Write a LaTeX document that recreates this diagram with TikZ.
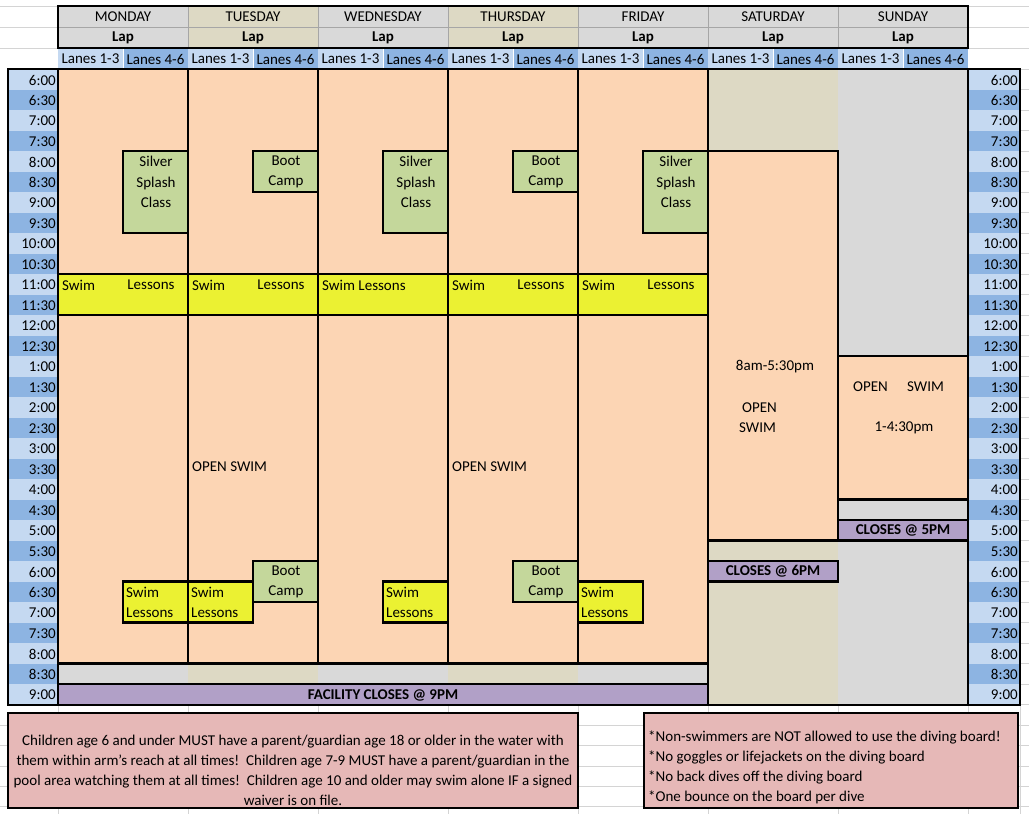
\documentclass[tikz,border=0pt]{standalone}
\usepackage{fontspec}
\setmainfont{Carlito}
\definecolor{peach}{HTML}{FCD5B4}
\definecolor{grn}{HTML}{C4D79B}
\definecolor{yel}{HTML}{EBF132}
\definecolor{purp}{HTML}{B1A0C7}
\definecolor{gry}{HTML}{D9D9D9}
\definecolor{tan}{HTML}{DDD9C4}
\definecolor{laneL}{HTML}{C5D9F1}
\definecolor{laneD}{HTML}{8DB4E2}
\definecolor{pink}{HTML}{E6B8B7}
\definecolor{grid}{HTML}{D4D4D4}
\begin{document}
\begin{tikzpicture}[x=1pt,y=-1pt,
  every node/.style={font=\fontsize{15}{16}\selectfont, inner sep=0pt},
  thk/.style={line width=2.2pt},
  box/.style={thk, draw=black}]
\useasboundingbox (0,0) rectangle (1029,814);
\fill[white] (0,0) rectangle (1029,814);
% faint spreadsheet grid in white area
\foreach \x in {58,188,318,448,578,708,838,968,1020}{\draw[grid,line width=0.6pt] (\x,705) -- (\x,814);}
\foreach \y in {725,745,766,786,806}{\draw[grid,line width=0.6pt] (0,\y) -- (1029,\y);}
\foreach \i in {0,...,31}{\draw[grid,line width=0.6pt] (1020,{69+20.5*\i}) -- (1029,{69+20.5*\i});}
\foreach \y in {6,27,48}{\draw[grid,line width=0.6pt] (0,\y) -- (58,\y); \draw[grid,line width=0.6pt] (968,\y) -- (1029,\y);}
% header
\foreach \d/\n/\c in {0/MONDAY/gry,1/TUESDAY/tan,2/WEDNESDAY/gry,3/THURSDAY/tan,4/FRIDAY/gry,5/SATURDAY/gry,6/SUNDAY/gry}{
  \pgfmathsetmacro\xa{58+130*\d}
  \fill[\c] (\xa,6) rectangle ({\xa+130},48);
  \draw[gray!70,line width=0.6pt] (\xa,27) -- ({\xa+130},27);
  \draw[gray!70,line width=0.8pt] (\xa,6) -- (\xa,48);
  \node (h\d) at ({\xa+65},17) {\n};
  \node[font=\fontsize{15}{16}\selectfont\bfseries] (lap\d) at ({\xa+65},38) {Lap};
  \fill[laneL] (\xa,48) rectangle ({\xa+65},69);
  \fill[laneD] ({\xa+65},48) rectangle ({\xa+130},69);
  \draw[white,line width=0.8pt] ({\xa+65},48) -- ({\xa+65},69);
  \draw[white,line width=0.8pt] ({\xa+130},48) -- ({\xa+130},69);
  \node (la\d) at ({\xa+32.5},59) {Lanes 1-3};
  \node (lb\d) at ({\xa+97.5},59) {Lanes 4-6};
}
\draw[thk] (58,6) rectangle (968,48);
% column backgrounds
\fill[tan] (708,69) rectangle (838,705);
\fill[gry] (838,69) rectangle (968,705);
\foreach \d/\c in {0/gry,1/tan,2/gry,3/tan,4/gry}{
  \pgfmathsetmacro\xa{58+130*\d}
  \fill[\c] (\xa,663.5) rectangle ({\xa+130},684);
  \fill[peach] (\xa,69) rectangle ({\xa+130},274);
  \fill[peach] (\xa,315) rectangle ({\xa+130},663.5);
  \draw[box] (\xa,69) rectangle ({\xa+130},274);
  \draw[box] (\xa,315) rectangle ({\xa+130},663.5);
}
% swim lessons row
\fill[yel] (58,274) rectangle (708,315);
\draw[box] (58,274) rectangle (708,315);
\foreach \x in {188,318,448,578}{\draw[thk] (\x,274) -- (\x,315);}
\foreach \d/\s in {0/a,1/b,3/d,4/e}{
  \pgfmathsetmacro\xa{58+130*\d}
  \node[anchor=west] (sw\s) at ({\xa+4},285) {Swim};
  \node (sl\s) at ({\xa+93},285) {Lessons};
}
\node[anchor=west] (swc) at (322,285) {Swim Lessons};
% morning classes
\foreach \d in {0,2,4}{
  \pgfmathsetmacro\xa{58+130*\d+65}
  \fill[grn] (\xa,151) rectangle ({\xa+65},233);
  \draw[box] (\xa,151) rectangle ({\xa+65},233);
  \node[align=center,font=\fontsize{15}{20.5}\selectfont] (ss\d) at ({\xa+33},182) {Silver\\Splash\\Class};
}
\foreach \d in {1,3}{
  \pgfmathsetmacro\xa{58+130*\d+65}
  \fill[grn] (\xa,151) rectangle ({\xa+65},192);
  \draw[box] (\xa,151) rectangle ({\xa+65},192);
  \node[align=center,font=\fontsize{15}{20.5}\selectfont] (bc\d) at ({\xa+33},172) {Boot\\Camp};
}
% open swim
\node[anchor=west] (os1) at (192,466.5) {OPEN SWIM};
\node[anchor=west] (os3) at (452,466.5) {OPEN SWIM};
% evening boxes: swim lessons
\foreach \x/\k in {123/a,188/b,383/c,578/e}{
  \fill[yel] (\x,581.5) rectangle ({\x+65},622.5);
  \draw[box] (\x,581.5) rectangle ({\x+65},622.5);
  \node[anchor=west,align=left,font=\fontsize{15}{20.5}\selectfont] (el\k) at ({\x+3},602.5) {Swim\\Lessons};
}
\foreach \x/\k in {253/b,513/d}{
  \fill[grn] (\x,561) rectangle ({\x+65},602);
  \draw[box] (\x,561) rectangle ({\x+65},602);
  \node[align=center,font=\fontsize{15}{20.5}\selectfont] (eb\k) at ({\x+33},582) {Boot\\Camp};
}
% facility closes
\fill[purp] (58,684) rectangle (708,705);
\draw[box] (58,684) rectangle (708,705);
\node[font=\fontsize{15}{16}\selectfont\bfseries] (fc) at (383,695) {FACILITY CLOSES @ 9PM};
% saturday
\fill[peach] (708,151) rectangle (838,540.5);
\draw[box] (708,151) rectangle (838,540.5);
\node (sat1) at (775,366.5) {8am-5:30pm};
\node[anchor=west] (sat2) at (742,407.5) {OPEN};
\node[anchor=west] (sat3) at (739,427.5) {SWIM};
\fill[purp] (708,561) rectangle (838,581.5);
\draw[box] (708,561) rectangle (838,581.5);
\node[font=\fontsize{15}{16}\selectfont\bfseries] (c6) at (773,571.5) {CLOSES @ 6PM};
% sunday
\fill[peach] (838,356) rectangle (968,499.5);
\draw[box] (838,356) rectangle (968,499.5);
\draw[box] (838,499.5) rectangle (968,520);
\node[anchor=west] (sun1) at (853,387) {OPEN};
\node[anchor=west] (sun2) at (907,387) {SWIM};
\node (sun3) at (904,427.5) {1-4:30pm};
\fill[purp] (838,520) rectangle (968,540.5);
\draw[box] (838,520) rectangle (968,540.5);
\node[font=\fontsize{15}{16}\selectfont\bfseries] (c5) at (903,530.5) {CLOSES @ 5PM};
\draw[box] (708,540.5) -- (968,540.5);
% time columns
\foreach \t [count=\j from 0] in {6:00,6:30,7:00,7:30,8:00,8:30,9:00,9:30,10:00,10:30,11:00,11:30,12:00,12:30,1:00,1:30,2:00,2:30,3:00,3:30,4:00,4:30,5:00,5:30,6:00,6:30,7:00,7:30,8:00,8:30,9:00}{
  \pgfmathsetmacro\yt{69+20.5*\j}
  \ifodd\j \def\cc{laneD}\else\def\cc{laneL}\fi
  \fill[\cc] (8,\yt) rectangle (58,{\yt+20.5});
  \fill[\cc] (968,\yt) rectangle (1020,{\yt+20.5});
  \node[anchor=east] (tl\j) at (56,{\yt+11}) {\t};
  \node[anchor=east] (tr\j) at (1018,{\yt+11}) {\t};
}
\draw[thk] (8,69) rectangle (1020,705);
\draw[thk] (58,69) -- (58,705);
\draw[thk] (968,69) -- (968,705);
\draw[thk] (708,69) -- (708,705);
% bottom notes
\fill[pink] (8,713) rectangle (578,808);
\draw[box] (8,713) rectangle (578,808);
\node[align=center,font=\fontsize{15}{20}\selectfont] (n1) at (293,770) {Children age 6 and under MUST have a parent/guardian age 18 or older in the water with\\them within arm's reach at all times!\ \ Children age 7-9 MUST have a parent/guardian in the\\pool area watching them at all times!\ \ Children age 10 and older may swim alone IF a signed\\waiver is on file.};
\fill[pink] (644,713) rectangle (1018,808);
\draw[box] (644,713) rectangle (1018,808);
\node[align=left,anchor=north west,font=\fontsize{15}{20}\selectfont] (n2) at (648,731) {*Non-swimmers are NOT allowed to use the diving board!\\*No goggles or lifejackets on the diving board\\*No back dives off the diving board\\*One bounce on the board per dive};
\end{tikzpicture}
\end{document}
